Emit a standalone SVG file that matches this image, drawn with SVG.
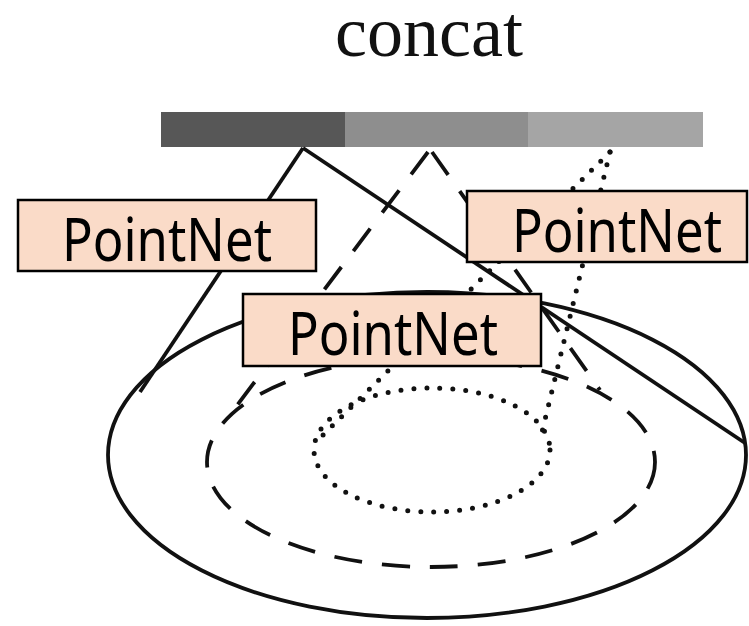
<svg xmlns="http://www.w3.org/2000/svg" width="749" height="626" viewBox="0 0 749 626">
  <defs>
    <style>
      .solid { fill: none; stroke: #111; stroke-width: 3.8; }
      .dashed { fill: none; stroke: #111; stroke-width: 3.8; stroke-dasharray: 28 20; }
      .dotted { fill: none; stroke: #111; stroke-width: 5; stroke-dasharray: 0 13; stroke-linecap: round; }
      .box { fill: #fadbc8; stroke: #000; stroke-width: 2.5; }
      .label { font-family: "Noto Sans", "DejaVu Sans", sans-serif; font-size: 60px; fill: #000; }
      .title { font-family: "Liberation Serif", "Times New Roman", serif; font-size: 72px; fill: #111; }
    </style>
  </defs>

  <rect width="749" height="626" fill="#fff"/>

  <!-- title -->
  <text class="title" x="429" y="56" text-anchor="middle">concat</text>

  <!-- concatenated feature bar -->
  <g id="feature-bar">
    <rect x="161" y="112" width="184" height="35" fill="#575757"/>
    <rect x="345" y="112" width="183" height="35" fill="#8e8e8e"/>
    <rect x="528" y="112" width="175" height="35" fill="#a5a5a5"/>
  </g>

  <!-- scale regions and their cones -->
  <g id="connectors">
    <!-- outer scale (solid) -->
    <ellipse class="solid" cx="427" cy="455" rx="319" ry="163"/>
    <line class="solid" x1="303" y1="148" x2="140" y2="392"/>
    <line class="solid" x1="303" y1="148" x2="745" y2="443"/>
    <!-- middle scale (dashed) -->
    <ellipse class="dashed" cx="431" cy="462" rx="224" ry="105"/>
    <line class="dashed" x1="428" y1="152" x2="226" y2="420"/>
    <line class="dashed" x1="432" y1="152" x2="600" y2="390"/>
    <!-- inner scale (dotted) -->
    <ellipse class="dotted" cx="432" cy="450" rx="118" ry="62"/>
    <line class="dotted" x1="610" y1="152" x2="318" y2="440"/>
    <line class="dotted" x1="610" y1="152" x2="542" y2="432"/>
  </g>

  <g id="pointnet-outer">
    <rect class="box" x="18" y="200" width="298" height="71"/>
    <text class="label" x="62" y="261" textLength="210" lengthAdjust="spacingAndGlyphs">PointNet</text>
  </g>

  <g id="pointnet-inner">
    <rect class="box" x="467" y="191" width="280" height="71"/>
    <text class="label" x="512" y="252" textLength="210" lengthAdjust="spacingAndGlyphs">PointNet</text>
  </g>

  <g id="pointnet-middle">
    <rect class="box" x="243" y="294" width="298" height="72"/>
    <text class="label" x="288" y="355" textLength="210" lengthAdjust="spacingAndGlyphs">PointNet</text>
  </g>
</svg>
